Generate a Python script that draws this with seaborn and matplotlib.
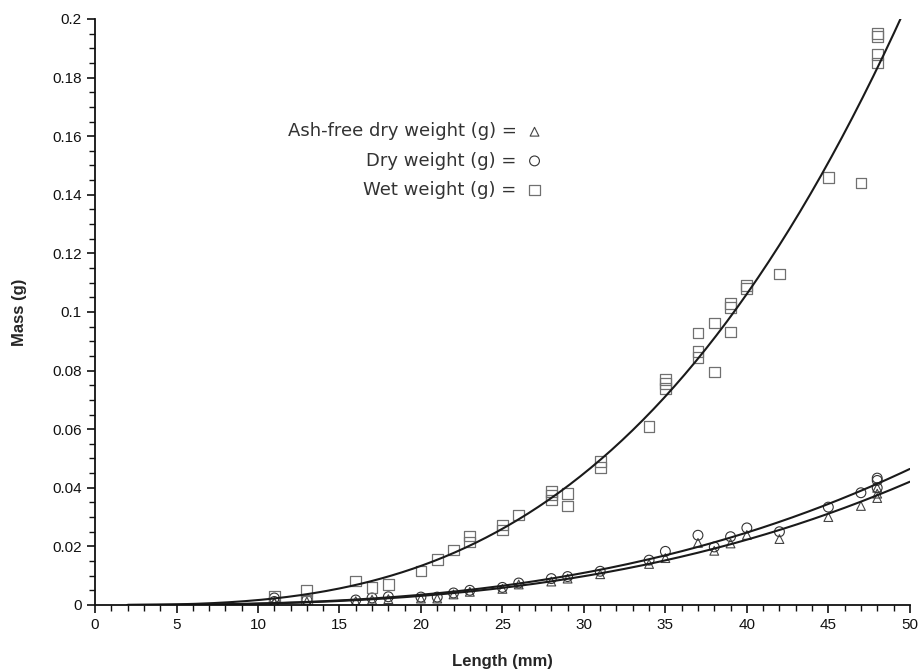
import numpy as np
import pandas as pd
import seaborn as sns
import matplotlib
matplotlib.use("Agg")
import matplotlib.pyplot as plt

# Wet weight (squares)
length_wet = [11, 13, 13, 16, 17, 18, 20, 21, 22, 23, 23, 25, 25, 26, 28, 28, 28, 29, 29,
              31, 31, 34, 35, 35, 35, 37, 37, 37, 38, 38, 39, 39, 39, 40, 40, 42, 45, 47,
              48, 48, 48, 48]
wet = [0.003, 0.005, 0.0017, 0.0082, 0.006, 0.007, 0.0116, 0.0154, 0.0188, 0.0235, 0.0215,
       0.0273, 0.0256, 0.0307, 0.0386, 0.0375, 0.0358, 0.038, 0.0338, 0.049, 0.047, 0.061,
       0.077, 0.0757, 0.074, 0.0928, 0.0865, 0.0845, 0.0962, 0.0795, 0.103, 0.1015, 0.0932,
       0.109, 0.108, 0.113, 0.146, 0.144, 0.195, 0.194, 0.188, 0.185]

# Dry weight (circles) and ash-free dry weight (triangles)
length_dry = [11, 11, 13, 16, 17, 18, 20, 21, 22, 23, 25, 26, 28, 29, 31, 34, 35, 37, 38, 39,
              40, 42, 45, 47, 48, 48, 48]
dry = [0.0024, 0.0012, 0.0017, 0.0017, 0.0024, 0.0028, 0.0027, 0.0027, 0.0041, 0.005, 0.006,
       0.0075, 0.009, 0.0097, 0.0115, 0.0153, 0.0183, 0.0238, 0.0198, 0.0233, 0.0263, 0.025,
       0.0334, 0.0383, 0.0433, 0.0425, 0.040]
afdw = [0.001, 0.0008, 0.0012, 0.0013, 0.0018, 0.002, 0.0022, 0.0022, 0.0036, 0.0045, 0.0055,
        0.007, 0.008, 0.009, 0.0105, 0.014, 0.016, 0.0212, 0.0185, 0.021, 0.0239, 0.0225,
        0.030, 0.0338, 0.0365, 0.040, 0.038]

df_wet = pd.DataFrame({"length": length_wet, "mass": wet})
df_dry = pd.DataFrame({"length": length_dry, "dry": dry, "afdw": afdw})


def power_fit(x, y, xs, n_iter=30):
    # y = a * x^b : start from a log-log fit, then refine by least squares on y itself
    x = np.asarray(x, float)
    y = np.asarray(y, float)
    b, lna = np.polyfit(np.log(x), np.log(y), 1)
    a = np.exp(lna)
    for _ in range(n_iter):
        f = a * x ** b
        J = np.column_stack([x ** b, a * x ** b * np.log(x)])
        step, *_ = np.linalg.lstsq(J, y - f, rcond=None)
        a, b = a + step[0], b + step[1]
    return a * xs ** b


sns.set_style("white")
plt.rcParams["font.family"] = ["Liberation Sans", "DejaVu Sans"]

fig = plt.figure(figsize=(9.19, 6.71), dpi=100)
ax = fig.add_axes([0.1034, 0.0984, 0.8866, 0.8733])

xs = np.linspace(2, 50, 300)
ax.plot(xs, power_fit(df_wet["length"], df_wet["mass"], xs), color="#1a1a1a", lw=1.5)
ax.plot(xs, power_fit(df_dry["length"], df_dry["dry"], xs), color="#1a1a1a", lw=1.5)
ax.plot(xs, power_fit(df_dry["length"], df_dry["afdw"], xs), color="#1a1a1a", lw=1.5)

sns.scatterplot(data=df_dry, x="length", y="afdw", marker="^", s=40, facecolor="none",
                edgecolor="#444444", linewidth=0.8, ax=ax, label="Ash-free dry weight (g) =")
sns.scatterplot(data=df_dry, x="length", y="dry", marker="o", s=50, facecolor="none",
                edgecolor="#333333", linewidth=0.8, ax=ax, label="Dry weight (g) =")
sns.scatterplot(data=df_wet, x="length", y="mass", marker="s", s=60, facecolor="none",
                edgecolor="#707070", linewidth=0.9, ax=ax, label="Wet weight (g) =")

ax.set_xlim(0, 50)
ax.set_ylim(0, 0.2)
ax.set_xticks(np.arange(0, 51, 5))
ax.set_xticks(np.arange(0, 51, 1), minor=True)
ax.set_yticks(np.arange(0, 0.201, 0.02))
ax.set_yticks(np.arange(0, 0.201, 0.005), minor=True)
ax.set_yticklabels(["0", "0.02", "0.04", "0.06", "0.08", "0.1", "0.12", "0.14", "0.16",
                    "0.18", "0.2"])
ax.tick_params(which="major", direction="out", length=6, width=1.2, labelsize=11,
               colors="#111111", left=True, bottom=True)
ax.tick_params(which="minor", direction="out", length=4, width=1.0, left=True, bottom=True,
               colors="#111111")
for side in ["top", "right"]:
    ax.spines[side].set_visible(False)
for side in ["left", "bottom"]:
    ax.spines[side].set_color("#111111")
    ax.spines[side].set_linewidth(1.3)

ax.set_xlabel("Length (mm)", fontsize=12, weight="bold", labelpad=16)
ax.set_ylabel("Mass (g)", fontsize=12, weight="bold", labelpad=18)

leg = ax.legend(loc="upper right", bbox_to_anchor=(0.566, 0.845), markerfirst=False,
                frameon=False, prop={"family": "DejaVu Sans", "size": 13},
                handletextpad=0.5, labelspacing=0.62, handlelength=1.0, borderpad=0.2)
for t in leg.get_texts():
    t.set_color("#333333")

fig.savefig("out.png", dpi=100)
